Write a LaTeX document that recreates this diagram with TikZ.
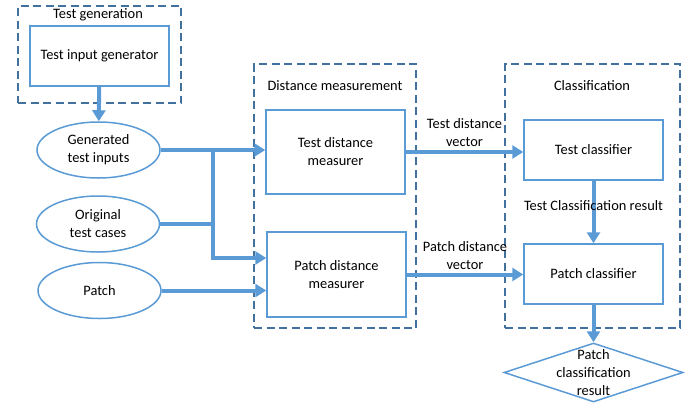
\documentclass[tikz,border=0pt]{standalone}
\usepackage{fontspec}
\setmainfont{Carlito}
\usetikzlibrary{shapes.geometric,arrows.meta}
\definecolor{lineblue}{RGB}{91,155,213}
\definecolor{dashblue}{RGB}{65,113,156}
\begin{document}
\begin{tikzpicture}[x=1pt, y=-1pt, font=\fontsize{14.4}{18}\selectfont]
    \tikzstyle{box}=[rectangle, draw=lineblue, line width=1.5pt, align=center, minimum width=139pt]
    \tikzstyle{oval}=[ellipse, draw=lineblue, line width=1.5pt, align=center, inner sep=0pt, minimum width=123pt, minimum height=56pt]
    \tikzstyle{group}=[rectangle, draw=dashblue, line width=1.4pt, dash pattern=on 8pt off 4.5pt]
    \tikzstyle{link}=[draw=lineblue, line width=4pt]
    \tikzstyle{flow}=[link, -{Triangle[length=11pt,width=13pt]}]
    \useasboundingbox (0,0) rectangle (685,402);
    % test generation
    \node (gen) [group, minimum width=163pt, minimum height=97pt] at (99.5,54.5) {};
    \node (genlabel) at (98,15) {Test generation};
    \node (tig) [box, minimum height=60pt] at (99.5,56) {Test input generator};
    \node (gti) [oval] at (98.5,150) {Generated\\test inputs};
    \node (otc) [oval] at (98,224) {Original\\test cases};
    \node (patch) [oval] at (99.5,290.5) {Patch};
    % distance measurement
    \node (dist) [group, minimum width=162pt, minimum height=264pt] at (335,196) {};
    \node (distlabel) at (335,86) {Distance measurement};
    \node (tdm) [box, minimum height=84pt] at (335.5,152) {Test distance\\measurer};
    \node (pdm) [box, minimum height=85pt] at (336.5,274.5) {Patch distance\\measurer};
    % classification
    \node (cls) [group, minimum width=175pt, minimum height=264pt] at (592.5,196) {};
    \node (clslabel) at (592,86) {Classification};
    \node (tc) [box, minimum height=60pt] at (593.5,150) {Test classifier};
    \node (pc) [box, minimum height=60pt] at (593.5,274) {Patch classifier};
    \node (pcr) [diamond, draw=lineblue, line width=1.5pt, inner sep=0pt, minimum width=179pt, minimum height=59pt] at (593.5,372.5) {};
    \node (pcrtext) [align=center] at (pcr) {Patch\\classification\\result};
    \coordinate (join) at (213,150);
    \draw [flow] (tig) -- (gti);
    \draw [flow] (gti.east) -- (gti.east -| tdm.west);
    \draw [link] (otc.east) -- (otc.east -| join);
    \draw [flow] (join) |- ([yshift=16.5pt]pdm.west);
    \draw [flow] (patch.east) -- (patch.east -| pdm.west);
    \draw [flow] (tdm.east) -- (tdm.east -| tc.west) node [midway, above=0pt, align=center] {Test distance\\vector};
    \draw [flow] (pdm.east) -- (pdm.east -| pc.west) node [midway, above=0pt, align=center] {Patch distance\\vector};
    \draw [flow] (tc) -- (pc) node [midway, yshift=6pt] {Test Classification result};
    \draw [flow] (pc) -- (pcr);
\end{tikzpicture}
\end{document}
